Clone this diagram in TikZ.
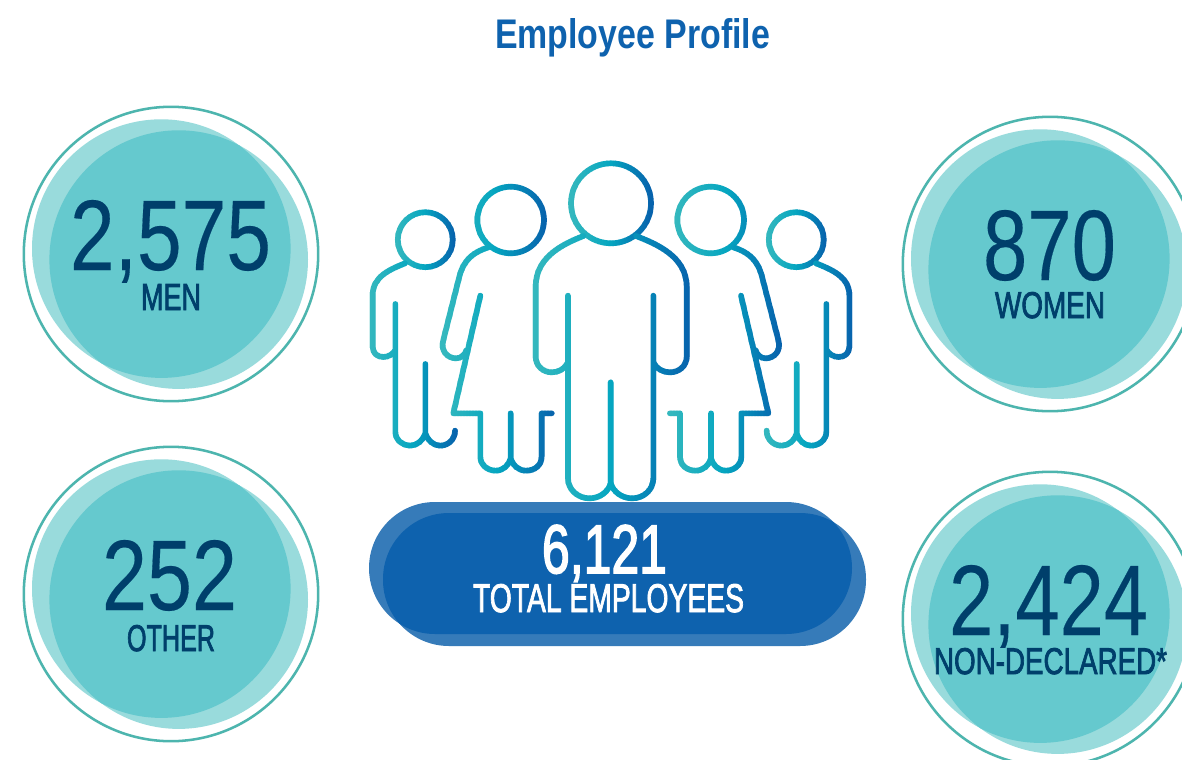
\documentclass[tikz,border=0pt]{standalone}
\usepackage{graphicx}
\usepackage{fontspec}
\setmainfont{Liberation Sans}
\newfontfamily\labelf[FakeBold=2.4]{Liberation Sans}
\newfontfamily\numf[FakeBold=0.2]{Liberation Sans}
\newfontfamily\whitef[FakeBold=2.6]{Liberation Sans}
\definecolor{ringc}{HTML}{4DB5AE}
\definecolor{lightc}{HTML}{99DBDC}
\definecolor{darkc}{HTML}{65C9CE}
\definecolor{inkc}{HTML}{003F6B}
\definecolor{pilla}{HTML}{367BB9}
\definecolor{pillb}{HTML}{0E62AE}
\definecolor{stopa}{HTML}{35B8BE}
\definecolor{stopb}{HTML}{05A6C0}
\definecolor{stopc}{HTML}{0763AD}
\tikzset{
  figline/.style={line width=4.25pt,line cap=round,line join=round},
  txt/.style={inner sep=0pt,outer sep=0pt,anchor=base west},
  zoomA/.style={shift={(360,150)},xscale=1/3,yscale=1/3},
  zoomB/.style={shift={(600,150)},xscale=1/3,yscale=1/3},
  pillshape/.style={rounded corners=49.5pt}
}
% fitted text: width and height in px
\newcommand\fitbox[3]{\resizebox{#1\dimexpr.75pt\relax}{#2\dimexpr.75pt\relax}{#3}}
\newcommand\badge[2]{%
  \fill[lightc] (#1-9.7,#2-5.4) circle[radius=129.3];
  \fill[lightc] (#1+7.7,#2+5.6) circle[radius=129.3];
  \begin{scope}
    \clip (#1-9.7,#2-5.4) circle[radius=129.3];
    \fill[darkc] (#1+7.7,#2+5.6) circle[radius=129.3];
  \end{scope}
  \draw[ringc,line width=1.9pt] (#1,#2) circle[radius=147.2];
}
\newcommand\gradstroke[3]{%
  \pgfmathtruncatemacro\nstrips{ceil((#2-#1+12)/3)}%
  \foreach \i in {0,...,\nstrips}{%
    \pgfmathsetmacro\xa{#1-6+3*\i}%
    \pgfmathsetmacro\tt{min(1,max(0,(\xa+1.5-#1)/(#2-#1)))}%
    \pgfmathsetmacro\pa{\tt<0.5 ? 200*\tt : 200*(\tt-0.5)}%
    \pgfmathparse{\tt<0.5 ? 1 : 0}%
    \ifnum\pgfmathresult=1 \colorlet{stripc}{stopb!\pa!stopa}\else\colorlet{stripc}{stopc!\pa!stopb}\fi
    \begin{scope}
      \clip (\xa-.3,150) rectangle (\xa+3.3,510);
      \draw[figline,stripc] #3;
    \end{scope}
  }%
}
\begin{document}
\begin{tikzpicture}[x=.75pt,y=-.75pt]
\path[use as bounding box,fill=white] (0,0) rectangle (1182,760);
\clip (0,0) rectangle (1182,760);

\node[txt,text=pillb] (title) at (495,48) {\fitbox{275}{30}{\bfseries Employee Profile}};

\badge{171}{254}
\badge{1050}{264}
\badge{171}{594}
\badge{1050}{619}

\node[txt,text=inkc] (men) at (70,270) {\fitbox{201}{70}{\numf 2,575}};
\node[txt,text=inkc] (menl) at (141,310) {\fitbox{60}{26}{\labelf MEN}};
\node[txt,text=inkc] (women) at (983,280) {\fitbox{133}{70}{\numf 870}};
\node[txt,text=inkc] (womenl) at (995,318) {\fitbox{110}{26}{\labelf WOMEN}};
\node[txt,text=inkc] (other) at (102,610) {\fitbox{135}{70}{\numf 252}};
\node[txt,text=inkc] (otherl) at (127,651) {\fitbox{88}{26}{\labelf OTHER}};
\node[txt,text=inkc] (nond) at (949,635) {\fitbox{199}{70}{\numf 2,424}};
\node[txt,text=inkc] (nondl) at (934,674) {\fitbox{233}{26}{\labelf NON-DECLARED*}};

% figures
% left child
\gradstroke{396}{455}{(425.3,239.7) circle[radius=27.5]}
\gradstroke{370}{457}{[zoomA]
  (135,340) .. controls (90,358) and (38,380) .. (38,435) -- (38,590)
    .. controls (38,610) and (52,621) .. (70,621) .. controls (85,621) and (100,612) .. (106,600)
  (106,462) -- (106,845) .. controls (106,870) and (128,887) .. (150,887) .. controls (172,887) and (190,870) .. (196,850)
  (196,642) -- (196,850) .. controls (202,870) and (220,887) .. (240,887) .. controls (265,887) and (285,868) .. (285,842)}
% left woman
\gradstroke{445}{546}{(510.7,220) circle[radius=33.3]}
\gradstroke{443}{554}{[zoomA]
  (385,292) .. controls (345,305) and (312,325) .. (298,380) -- (250,570)
    .. controls (240,605) and (265,625) .. (288,625) .. controls (303,625) and (314,615) .. (320,600)
  (361,437) -- (280,790) -- (361,790) -- (361,920) .. controls (361,945) and (383,962) .. (407,962) .. controls (430,962) and (447,945) .. (452,925)
  (452,790) -- (452,925) .. controls (457,945) and (475,962) .. (498,962) .. controls (525,962) and (545,945) .. (545,920) -- (545,790) -- (575,790)}
% right woman
\gradstroke{675}{780}{(710.7,220) circle[radius=33.3]}
\gradstroke{668}{780}{[zoomB]
  (400,292) .. controls (440,305) and (472,325) .. (486,380) -- (535,570)
    .. controls (545,605) and (520,625) .. (497,625) .. controls (482,625) and (472,615) .. (466,600)
  (423,437) -- (505,790) -- (424,790) -- (424,920) .. controls (424,945) and (402,962) .. (378,962) .. controls (355,962) and (338,945) .. (333,925)
  (333,790) -- (333,925) .. controls (328,945) and (310,962) .. (287,962) .. controls (260,962) and (240,945) .. (240,920) -- (240,790) -- (210,790)}
% right child
\gradstroke{767}{826}{(796.3,239.7) circle[radius=27.5]}
\gradstroke{765}{852}{[zoomB]
  (648,340) .. controls (693,358) and (748,380) .. (748,435) -- (748,590)
    .. controls (748,610) and (734,621) .. (716,621) .. controls (701,621) and (686,612) .. (680,600)
  (679,462) -- (679,845) .. controls (679,870) and (657,887) .. (633,887) .. controls (612,887) and (595,870) .. (590,850)
  (590,642) -- (590,850) .. controls (585,870) and (567,887) .. (545,887) .. controls (520,887) and (500,868) .. (500,842)}
% middle person
\gradstroke{571}{651}{(611,203.3) circle[radius=40]}
\gradstroke{533}{690}{[zoomA]
  (670,258) .. controls (610,282) and (527,320) .. (527,410) -- (527,620)
    .. controls (527,648) and (550,667) .. (575,667) .. controls (595,667) and (614,657) .. (622,640)
  (624,437) -- (624,985) .. controls (624,1020) and (655,1045) .. (688,1045) .. controls (720,1045) and (745,1025) .. (752,1000)
  (752,697) -- (752,1000)}
\gradstroke{533}{690}{[zoomB]
  (32,1000) .. controls (40,1025) and (65,1045) .. (97,1045) .. controls (130,1045) and (160,1020) .. (160,985) -- (160,437)
  (108,258) .. controls (170,282) and (260,320) .. (260,410) -- (260,620)
    .. controls (260,648) and (237,667) .. (210,667) .. controls (190,667) and (170,657) .. (162,640)}

% pill
\fill[pilla,pillshape] (369,502) rectangle (852,634);
\fill[pilla,pillshape] (383,513) rectangle (866,646);
\begin{scope}
  \clip[pillshape] (369,502) rectangle (852,634);
  \fill[pillb,pillshape] (383,513) rectangle (866,646);
\end{scope}
\node[txt,text=white] (total) at (542,573) {\fitbox{125}{48}{\whitef 6,121}};
\node[txt,text=white] (totall) at (473,612) {\fitbox{271}{28}{\labelf TOTAL EMPLOYEES}};
\end{tikzpicture}
\end{document}
